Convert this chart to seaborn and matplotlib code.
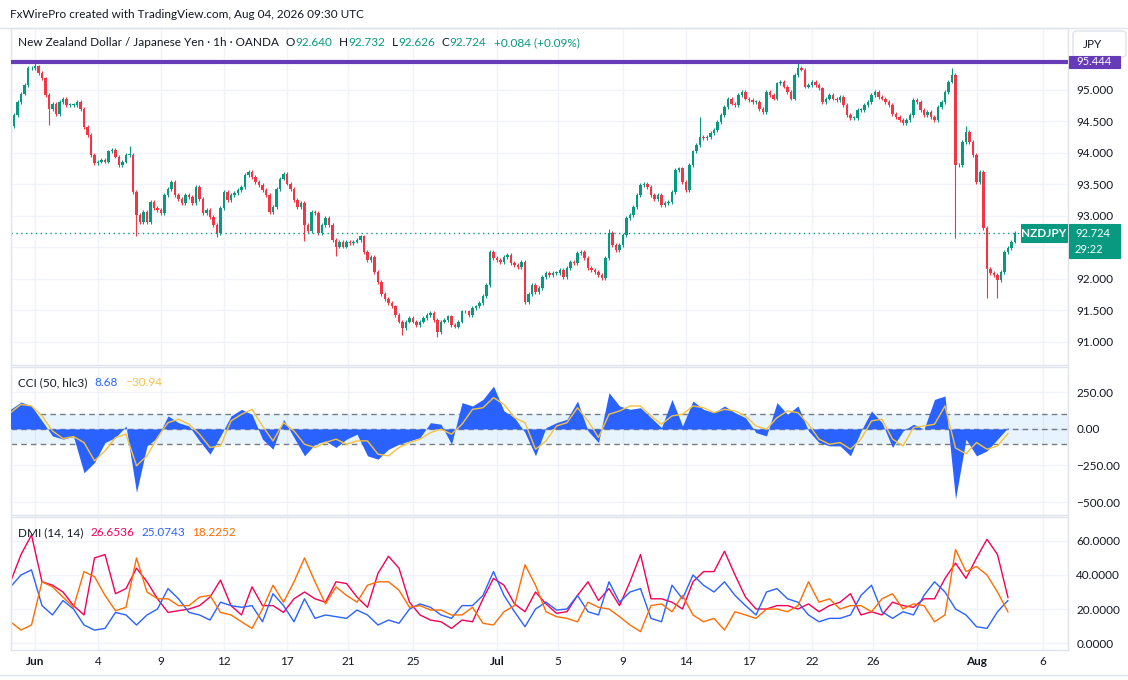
import numpy as np
import pandas as pd
import matplotlib
matplotlib.use("Agg")
import matplotlib.pyplot as plt
from matplotlib.patches import Rectangle, FancyBboxPatch
import seaborn as sns

W, H = 1128, 680

# ---- price: 4h closes (first bar starts 28h before the "Jun" label)
first_open = 94.36
close = [
    94.43, 94.60, 94.81, 94.94, 95.07, 95.34, 95.34, 95.37, 95.26, 95.18,
    94.92, 94.70, 94.78, 94.62, 94.81, 94.86, 94.76, 94.76, 94.76, 94.81,
    94.70, 94.41, 94.28, 93.96, 93.83, 93.86, 93.88, 93.86, 94.02, 94.04,
    93.94, 93.80, 93.86, 93.96, 93.96, 93.38, 93.01, 92.90, 93.06, 92.90,
    93.22, 93.12, 93.09, 93.04, 93.33, 93.43, 93.54, 93.33, 93.27, 93.20,
    93.33, 93.30, 93.20, 93.46, 93.27, 93.04, 93.09, 92.98, 92.85, 92.72,
    93.12, 93.38, 93.25, 93.33, 93.36, 93.41, 93.46, 93.65, 93.70, 93.62,
    93.54, 93.49, 93.41, 93.33, 93.06, 93.14, 93.43, 93.59, 93.67, 93.51,
    93.43, 93.25, 93.14, 93.20, 92.85, 92.75, 93.06, 93.04, 92.72, 92.85,
    92.96, 92.85, 92.61, 92.51, 92.59, 92.51, 92.59, 92.56, 92.59, 92.61,
    92.67, 92.43, 92.30, 92.35, 92.11, 91.95, 91.76, 91.68, 91.61, 91.56,
    91.42, 91.32, 91.21, 91.32, 91.37, 91.32, 91.26, 91.32, 91.37, 91.42,
    91.45, 91.34, 91.16, 91.32, 91.34, 91.40, 91.26, 91.24, 91.32, 91.48,
    91.48, 91.42, 91.53, 91.56, 91.61, 91.72, 91.90, 92.43, 92.33, 92.30,
    92.27, 92.35, 92.38, 92.25, 92.22, 92.19, 92.27, 91.63, 91.76, 91.90,
    91.79, 91.85, 92.03, 92.09, 92.06, 92.09, 92.09, 92.14, 92.03, 92.17,
    92.27, 92.25, 92.41, 92.43, 92.33, 92.17, 92.14, 92.11, 92.06, 92.01,
    92.33, 92.72, 92.53, 92.46, 92.53, 92.69, 92.96, 93.01, 93.14, 93.33,
    93.49, 93.51, 93.46, 93.33, 93.27, 93.33, 93.17, 93.20, 93.22, 93.38,
    93.72, 93.75, 93.54, 93.41, 93.80, 94.02, 94.12, 94.25, 94.23, 94.25,
    94.31, 94.36, 94.49, 94.60, 94.73, 94.86, 94.78, 94.76, 94.92, 94.97,
    94.86, 94.84, 94.81, 94.81, 94.70, 94.65, 94.97, 94.92, 94.86, 95.10,
    95.13, 95.05, 94.97, 94.86, 95.23, 95.34, 95.32, 95.05, 95.07, 95.13,
    95.07, 95.02, 94.81, 94.86, 94.92, 94.86, 94.84, 94.89, 94.76, 94.60,
    94.55, 94.55, 94.68, 94.68, 94.76, 94.81, 94.92, 94.97, 94.89, 94.86,
    94.81, 94.76, 94.62, 94.57, 94.52, 94.47, 94.52, 94.60, 94.84, 94.81,
    94.68, 94.60, 94.65, 94.57, 94.52, 94.73, 94.81, 94.97, 95.13, 95.23,
    93.80, 93.80, 94.17, 94.33, 94.17, 93.96, 93.54, 93.70, 92.80, 92.16,
    92.09, 92.06, 91.98, 92.11, 92.43, 92.49, 92.59, 92.724,
]
# long wicks that stand out in the picture (bar number, price)
hi_bars = [7, 34, 171, 197, 225, 269, 273]
hi_vals = [95.43, 94.10, 92.79, 94.56, 95.44, 95.34, 94.42]
lo_bars = [11, 36, 59, 84, 93, 112, 122, 147, 270, 279, 282]
lo_vals = [94.44, 92.67, 92.66, 92.60, 92.36, 91.10, 91.07, 91.60, 92.65, 91.70, 91.70]

# last hourly bar shown in the legend
last_ohlc = [92.640, 92.732, 92.626, 92.724]
last_change = "+0.084 (+0.09%)"
alert_level = 95.444
countdown = "29:22"

# ---- indicators, 12h samples
cci = [
    134, 184, 157, 55, -48, -70, -52, -300, -230, -93,
    -59, 20, -434, -116, -59, 89, 43, 20, -82, -173,
    -48, 89, 134, 100, -70, -139, 66, -59, -184, -105,
    -82, -127, -70, -36, -184, -207, -139, -105, -82, -59,
    43, 32, -105, 180, 157, 202, 293, 123, 77, -25,
    -184, 9, 43, 66, 191, -14, -93, 248, 157, 134,
    145, 77, 9, 202, 20, 191, 134, 111, 157, 111,
    77, -25, -48, 180, 100, 157, -14, -93, -116, -116,
    -184, -14, 123, 43, -127, -14, 32, -2, 202, 225,
    -480, -70, -184, -150, -70, 8.68,
]
cci_ma = [
    111, 168, 157, 89, -14, -66, -52, -93, -218, -150,
    -59, -36, -252, -184, -59, 43, 66, 32, -36, -127,
    -116, 55, 100, 134, 20, -82, 43, -14, -105, -127,
    -93, -70, -105, -82, -82, -173, -184, -127, -93, -70,
    -25, -2, -36, 32, 134, 145, 214, 168, 77, 43,
    -139, -82, 20, 43, 145, 55, -59, 100, 123, 157,
    157, 89, 32, 89, 100, 157, 145, 111, 134, 123,
    89, 20, -2, 77, 123, 111, 32, -70, -105, -93,
    -139, -70, 55, 66, -70, -116, 9, 20, 32, 157,
    -130, -170, -93, -139, -116, -30.94,
]
adx = [
    36, 52, 63.5, 36, 34, 30, 22, 16.5, 50, 52,
    29, 32, 44, 36, 26, 18, 19, 20, 22, 27,
    37, 22, 16.5, 33, 22, 22, 18, 26, 30, 26,
    24, 36, 35, 27, 21, 41, 51, 44, 24, 16.5,
    13.5, 12.5, 8.6, 13.5, 12.5, 26, 38, 34, 23, 18.4,
    30, 23, 17.5, 18.4, 28, 36, 25, 32, 22, 36,
    52, 26, 26, 24, 20, 36, 42, 42, 54, 40,
    27, 20, 20, 22, 22, 20, 23, 18.4, 22, 24,
    29, 16.5, 18.4, 16.5, 24, 22, 21, 26, 26, 38,
    47, 38, 50, 61, 52, 26.6536,
]
plus_di = [
    33, 40, 43, 22, 16.5, 25, 20, 10.6, 7.6, 8.6,
    18, 16.5, 10.6, 16.5, 20, 32, 26, 18, 16.5, 13.5,
    24, 22, 21, 22, 12.5, 29, 22, 12.5, 26, 14.5,
    16.5, 15.5, 14.5, 19.4, 16.5, 10.6, 13.5, 11.6, 20, 23,
    21, 16.5, 14.5, 22, 22, 28, 42, 28, 18.4, 9.6,
    20, 24, 19.4, 20, 28, 18.4, 16.5, 36, 24, 30,
    32, 14.5, 12.5, 34, 26, 40, 34, 30, 36, 28,
    22, 16.5, 30, 32, 26, 24, 16.5, 12.5, 14.5, 14.5,
    16.5, 28, 34, 18.4, 14.5, 18.4, 16.5, 28, 36, 30,
    20, 16.5, 9.6, 8.6, 18.4, 25.0743,
]
minus_di = [
    12.5, 7.6, 10.6, 36, 33, 27, 21, 42, 39, 28,
    19, 21, 50, 30, 26, 26, 22, 22, 27, 28,
    18, 16.5, 12.5, 8.6, 20, 34, 24, 36, 50, 36,
    23, 33, 28, 24, 34, 36, 36, 31, 21, 22,
    19.4, 19.4, 16.5, 16.5, 21, 11.6, 10.6, 18.4, 22, 46,
    34, 18.4, 15.5, 14.5, 12.5, 24, 21, 20, 15.5, 10.6,
    6.7, 22, 23, 18.4, 28, 16.5, 12.5, 14.5, 7.6, 18.4,
    16.5, 14.5, 20, 20, 18.4, 22, 36, 24, 26, 20,
    22, 22, 18.4, 26, 29, 20, 23, 22, 12.5, 16.5,
    55, 42, 45, 40, 30, 18.2252,
]

# trading-day positions of the date labels (0 = Jun 1 session)
tick_days = [0, 3, 6, 9, 12, 14.9, 18, 22, 24.9, 28, 31, 34, 37, 39.9, 44.85, 48]
tick_labels = ["Jun", "4", "9", "12", "17", "21", "25", "Jul", "5", "9", "14", "17", "22", "26", "Aug", "6"]
price_ticks = [91.0, 91.5, 92.0, 92.5, 93.0, 93.5, 94.0, 94.5, 95.0]
hidden_price_tick = 92.5  # covered by the last-price label
cci_ticks = [250, 0, -250, -500]
dmi_ticks = [0, 20, 40, 60]

DARK = "#131722"
UP = "#089981"
DOWN = "#f23645"
BLUE = "#2962ff"
YELLOW = "#f7c23c"
RED = "#f50057"
ORANGE = "#ff6d00"
GRID = "#f0f3fa"
EDGE = "#e0e3eb"

sns.set_theme(style="white")
plt.rcParams["font.family"] = ["Lato", "DejaVu Sans"]

fig = plt.figure(figsize=(W / 100, H / 100), dpi=100)
fig.patch.set_facecolor("white")


def rect(x0, y0, x1, y1):
    return [x0 / W, 1 - y1 / H, (x1 - x0) / W, (y1 - y0) / H]


ax_p = fig.add_axes(rect(11, 28, 1068, 365))
ax_c = fig.add_axes(rect(11, 367, 1068, 515), sharex=ax_p)
ax_d = fig.add_axes(rect(11, 517, 1068, 650), sharex=ax_p)

t0 = -7 / 6  # first bar, in trading days
bar_x = t0 + np.arange(len(close)) / 6
ind_x = t0 + np.arange(len(cci)) / 2

# ---- candles
c = np.array(close)
o = np.r_[first_open, c[:-1]]
WICK = 0.03
hi = np.maximum(o, c) + WICK
lo = np.minimum(o, c) - WICK
hi[hi_bars] = np.maximum(hi[hi_bars], hi_vals)
lo[lo_bars] = np.minimum(lo[lo_bars], lo_vals)
cols = np.where(c >= o, UP, DOWN)
ax_p.vlines(bar_x, lo, hi, colors=cols, lw=0.8)
ax_p.bar(bar_x, np.maximum(np.abs(c - o), 0.012), bottom=np.minimum(o, c),
         width=0.12, color=cols, lw=0)
last_price = last_ohlc[3]
ax_p.axhline(alert_level, color="#673ab7", lw=3, zorder=4)
ax_p.axhline(last_price, color=UP, lw=1, ls=(0, (1, 2.5)))
ax_p.set_ylim(90.63, 95.98)
ax_p.set_yticks(price_ticks)
ax_p.set_yticklabels(["" if v == hidden_price_tick else f"{v:.3f}" for v in price_ticks])

# ---- CCI
ax_c.axhspan(-100, 100, color="#2196f3", alpha=0.1, lw=0)
for lvl in (100, 0, -100):
    ax_c.axhline(lvl, color="#787b86", lw=1, ls=(0, (4, 3)))
ax_c.fill_between(ind_x, cci, 0, color=BLUE, lw=0, zorder=3)
sns.lineplot(x=ind_x, y=cci_ma, ax=ax_c, color=YELLOW, lw=1, zorder=4)
ax_c.set_ylim(-588.8, 423.6)
ax_c.set_yticks(cci_ticks)
ax_c.set_yticklabels([f"{v:.2f}".replace("-", "\u2212") for v in cci_ticks])

# ---- DMI
dmi = pd.DataFrame({
    "day": np.tile(ind_x, 3),
    "value": adx + plus_di + minus_di,
    "line": ["adx"] * len(adx) + ["plus"] * len(plus_di) + ["minus"] * len(minus_di),
})
sns.lineplot(data=dmi, x="day", y="value", hue="line",
             palette={"adx": RED, "plus": BLUE, "minus": ORANGE},
             ax=ax_d, legend=False, lw=1)
ax_d.set_ylim(-4.1, 74.1)
ax_d.set_yticks(dmi_ticks)
ax_d.set_yticklabels([f"{v:.4f}" for v in dmi_ticks])

for ax in (ax_p, ax_c, ax_d):
    ax.set_facecolor("white")
    ax.set_xlabel("")
    ax.set_ylabel("")
    ax.set_xticks(tick_days)
    ax.grid(True, color=GRID, lw=1)
    ax.set_axisbelow(True)
    ax.yaxis.tick_right()
    ax.tick_params(axis="y", length=0, pad=6, labelsize=8.5, labelcolor=DARK)
    ax.tick_params(axis="x", length=0, labelbottom=False)
    for s in ax.spines.values():
        s.set_color(EDGE)
        s.set_linewidth(1)
ax_d.tick_params(axis="x", labelbottom=True, pad=4, labelsize=8.5, labelcolor=DARK)
ax_d.set_xticklabels(tick_labels)
for lbl in ax_d.get_xticklabels():
    if lbl.get_text() in ("Jun", "Jul", "Aug"):
        lbl.set_fontweight("bold")
ax_p.set_xlim((11 - 35) / 21, (1068 - 35) / 21)

# ---- texts and boxes
renderer = fig.canvas.get_renderer()


def text_row(x_px, y_px, pieces, size=8.5):
    for s, col, gap in pieces:
        t = fig.text(x_px / W, 1 - y_px / H, s, color=col, fontsize=size,
                     ha="left", va="center")
        x_px += t.get_window_extent(renderer).width + gap


def box(x0, y0, x1, y1, color, edge=None, rounded=False):
    if rounded:
        p = FancyBboxPatch((x0 / W, 1 - y1 / H), (x1 - x0) / W, (y1 - y0) / H,
                           boxstyle="round,pad=0,rounding_size=0.004",
                           transform=fig.transFigure, facecolor=color,
                           edgecolor=edge or color, lw=1)
    else:
        p = Rectangle((x0 / W, 1 - y1 / H), (x1 - x0) / W, (y1 - y0) / H,
                      transform=fig.transFigure, facecolor=color,
                      edgecolor=edge or color, lw=0.8)
    fig.add_artist(p)


def ypix(ax, v):
    return H - ax.transData.transform((0, v))[1]


fig.text(10 / W, 1 - 15 / H, "FxWirePro created with TradingView.com, Aug 04, 2026 09:30 UTC",
         color=DARK, fontsize=8.5, ha="left", va="center")
row = [("New Zealand Dollar / Japanese Yen \u00b7 1h \u00b7 OANDA", DARK, 7)]
for letter, val in zip("OHLC", last_ohlc):
    row += [(letter, DARK, 0), (f"{val:.3f}", UP, 7)]
row.append((last_change, UP, 0))
text_row(18, 43, row)
text_row(18, 383, [
    ("CCI (50, hlc3)", DARK, 7),
    (f"{cci[-1]:.2f}", BLUE, 7),
    (f"{cci_ma[-1]:.2f}".replace("-", "\u2212"), YELLOW, 0),
])
text_row(18, 533, [
    ("DMI (14, 14)", DARK, 7),
    (f"{adx[-1]:.4f}", RED, 7),
    (f"{plus_di[-1]:.4f}", BLUE, 7),
    (f"{minus_di[-1]:.4f}", ORANGE, 0),
])

# currency button
box(1073, 31, 1126, 57, "white", edge=EDGE, rounded=True)
fig.text(1083 / W, 1 - 44 / H, "JPY", color=DARK, fontsize=8.5, ha="left", va="center")

# alert line label
ya = ypix(ax_p, alert_level)
box(1069, ya - 6, 1120, ya + 6, "#673ab7")
fig.text(1094 / W, 1 - ya / H, f"{alert_level:.3f}", color="white", fontsize=8,
         ha="center", va="center")

# last price labels
yl = ypix(ax_p, last_price)
box(1021, yl - 9, 1067, yl + 9, UP)
fig.text(1044 / W, 1 - yl / H, "NZDJPY", color="white", fontsize=8.5,
         fontweight="bold", ha="center", va="center")
box(1069, yl - 9, 1120, yl + 25, UP)
fig.text(1075 / W, 1 - yl / H, f"{last_price:.3f}", color="white", fontsize=8,
         ha="left", va="center")
fig.text(1075 / W, 1 - (yl + 16) / H, countdown, color="white", fontsize=8,
         ha="left", va="center")

# outer frame lines
fig.add_artist(plt.Line2D([0, 1], [1 - 28 / H, 1 - 28 / H], color=EDGE, lw=1,
                          transform=fig.transFigure))
fig.add_artist(plt.Line2D([0, 1], [1 - 675 / H, 1 - 675 / H], color=EDGE, lw=1,
                          transform=fig.transFigure))

fig.savefig("out.png", dpi=100, facecolor="white")
